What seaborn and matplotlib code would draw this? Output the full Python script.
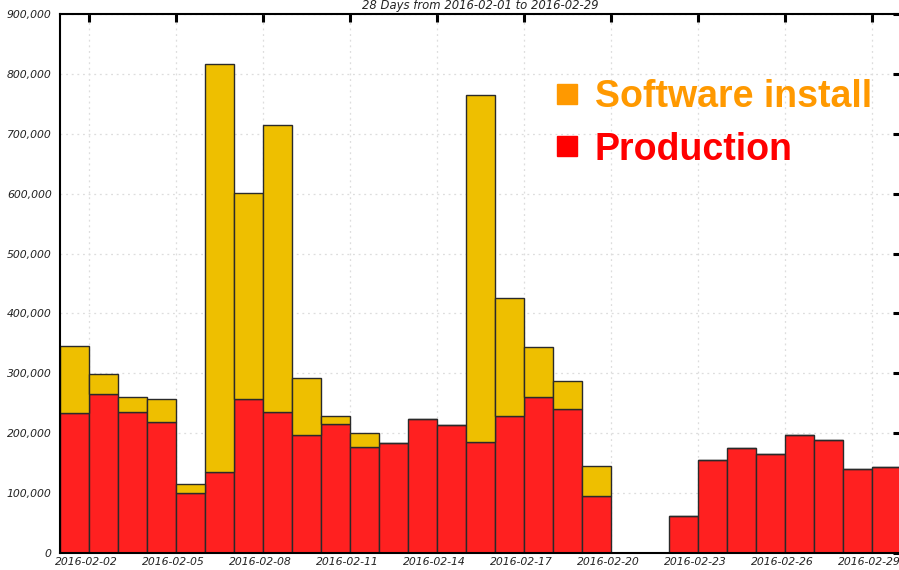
import numpy as np
import pandas as pd
import matplotlib
matplotlib.use("Agg")
import matplotlib.pyplot as plt
import matplotlib.dates as mdates
import matplotlib.transforms as mtransforms
from matplotlib.lines import Line2D
from matplotlib.ticker import FuncFormatter, MultipleLocator
import seaborn as sns

# Daily job counts, February 2016
days = pd.date_range("2016-02-01", "2016-02-29", freq="D")
production = [233000, 265000, 235000, 219000, 100000, 135000, 257000, 235000,
              197000, 215000, 177000, 183000, 223000, 213000, 185000, 229000,
              261000, 241000, 95000, 0, 0, 61000, 155000, 175000, 165000,
              197000, 189000, 140000, 144000]
software_install = [113000, 34000, 26000, 38000, 16000, 682000, 344000, 479000,
                    96000, 14000, 24000, 0, 0, 0, 579000, 196000, 83000, 46000,
                    51000, 0, 0, 0, 0, 0, 0, 0, 0, 0, 0]
series_names = ["Software install", "Production"]
bar_colors = {"Software install": "#EEBF00", "Production": "#FF2020"}
legend_colors = ["#FF9900", "#FF0000"]
title_text = "28 Days from 2016-02-01 to 2016-02-29"

day_num = mdates.date2num(days)
df = pd.DataFrame({
    "day": np.concatenate([day_num, day_num]) + 0.5,
    "jobs": production + software_install,
    "activity": ["Production"] * len(days) + ["Software install"] * len(days),
})
x_lo, x_hi = float(day_num[0]), float(day_num[-1] + 1)

sns.set_theme(style="white")
fig = plt.figure(figsize=(8.99, 5.70), dpi=100)
ax = fig.add_axes([60 / 899, 17 / 570, 841 / 899, 539 / 570])

sns.histplot(data=df, x="day", weights="jobs", hue="activity",
             hue_order=series_names, multiple="stack", binwidth=1,
             binrange=(x_lo, x_hi),
             palette=bar_colors, alpha=1, edgecolor="#2a2a2a", linewidth=1.0,
             legend=False, ax=ax)

ax.set_xlim(x_lo, x_hi)
ax.set_ylim(0, 900000)
ax.set_xlabel("")
ax.set_ylabel("")

ax.xaxis.set_major_locator(mdates.DayLocator(bymonthday=[2, 5, 8, 11, 14, 17, 20, 23, 26, 29]))
ax.xaxis.set_major_formatter(mdates.DateFormatter("%Y-%m-%d"))
ax.yaxis.set_major_locator(MultipleLocator(100000))
ax.yaxis.set_major_formatter(FuncFormatter(lambda v, _: f"{int(v):,}"))

ax.grid(True, which="major", color="#dddddd", linestyle=(0, (1.5, 3)), linewidth=0.9)
ax.set_axisbelow(True)
for side, sp in ax.spines.items():
    sp.set_visible(True)
    sp.set_color("black")
    sp.set_linewidth(1.5)

ax.tick_params(axis="both", which="major", direction="in", length=6, width=2.2,
               color="black", top=True, right=True, labelsize=7.8,
               labelcolor="#222222")
ax.tick_params(axis="x", pad=3)
ax.tick_params(axis="y", pad=6)
shift_left = mtransforms.ScaledTranslation(-3 / 100, 0, fig.dpi_scale_trans)
for lbl in ax.get_xticklabels():
    lbl.set_fontstyle("italic")
    lbl.set_transform(lbl.get_transform() + shift_left)
for lbl in ax.get_yticklabels():
    lbl.set_fontstyle("italic")

fig.text(480 / 899, 1 - 9.5 / 570, title_text, ha="center", va="baseline",
         fontsize=8.4, fontstyle="italic", color="#222222")

handles = [Line2D([], [], marker="s", linestyle="", markersize=14.5,
                  markerfacecolor=c, markeredgecolor=c) for c in legend_colors]
ax.legend(handles, series_names, loc="upper left",
          bbox_to_anchor=(548 / 899, 1 - 79 / 570), bbox_transform=fig.transFigure,
          frameon=False, borderpad=0, borderaxespad=0, handlelength=1.0,
          handletextpad=0.25, labelspacing=0.44, labelcolor=legend_colors,
          prop={"family": "Liberation Sans", "weight": "bold", "size": 27})

fig.savefig("out.png", dpi=100)
